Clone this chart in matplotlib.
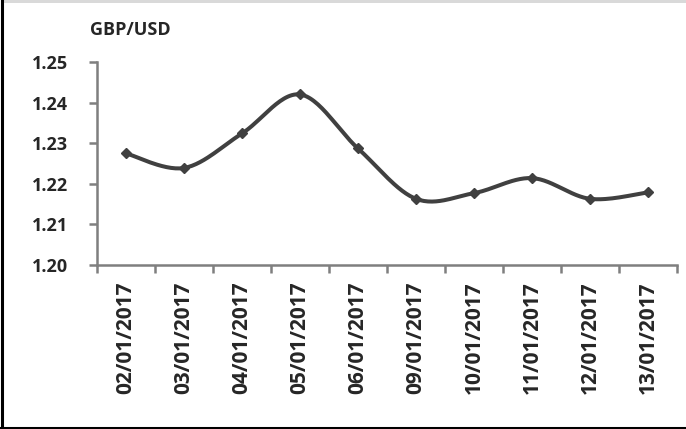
import numpy as np
import matplotlib
matplotlib.use("Agg")
import matplotlib.pyplot as plt
from matplotlib.patches import Rectangle
from matplotlib.lines import Line2D

dates = ["02/01/2017", "03/01/2017", "04/01/2017", "05/01/2017", "06/01/2017",
         "09/01/2017", "10/01/2017", "11/01/2017", "12/01/2017", "13/01/2017"]
rates = [1.2275, 1.2239, 1.2324, 1.2420, 1.2287, 1.2163, 1.2177, 1.2214, 1.2163, 1.2179]
y_ticks = [1.20, 1.21, 1.22, 1.23, 1.24, 1.25]
y_label = "GBP/USD"

plt.rcParams['font.family'] = ['Open Sans', 'DejaVu Sans']
txt_color = "#262626"
axis_color = "#7f7f7f"
line_color = "#404040"

fig = plt.figure(figsize=(6.86, 4.29), dpi=100)
ax = fig.add_axes([97/686, 1-265/429, (677-97)/686, (265-62)/429])

x = np.arange(len(rates), dtype=float)
y = np.array(rates)

# Smooth curve (Excel-style cubic Bezier through the points)
px = np.concatenate([[x[0]], x, [x[-1]]])
py = np.concatenate([[y[0]], y, [y[-1]]])
cx, cy = [], []
t = np.linspace(0, 1, 30)
for i in range(len(x) - 1):
    p0 = np.array([x[i], y[i]])
    p3 = np.array([x[i+1], y[i+1]])
    prev = np.array([px[i], py[i]])
    nxt = np.array([px[i+3], py[i+3]])
    p1 = p0 + (p3 - prev) / 6
    p2 = p3 - (nxt - p0) / 6
    b = ((1-t)**3)[:, None]*p0 + (3*(1-t)**2*t)[:, None]*p1 + (3*(1-t)*t**2)[:, None]*p2 + (t**3)[:, None]*p3
    cx.extend(b[:, 0]); cy.extend(b[:, 1])
ax.plot(cx, cy, color=line_color, lw=2.9, solid_capstyle='round', zorder=3)
ax.plot(x, y, linestyle='none', marker='D', markersize=5, color=line_color, zorder=4)

ax.set_xlim(-0.5, len(rates) - 0.5)
ax.set_ylim(1.20, 1.25)
ax.set_yticks(y_ticks)
ax.set_yticklabels([f"{v:.2f}" for v in y_ticks])
ax.set_xticks(np.arange(-0.5, len(rates)), minor=False)
ax.set_xticklabels([])
ax.set_xticks(x, minor=True)
ax.set_xticklabels(dates, minor=True, rotation=90)

for s in ['top', 'right']:
    ax.spines[s].set_visible(False)
for s in ['left', 'bottom']:
    ax.spines[s].set_color(axis_color)
    ax.spines[s].set_linewidth(1.8)

ax.tick_params(axis='x', which='major', length=6, width=1.8, color=axis_color, direction='out')
ax.tick_params(axis='x', which='minor', length=0, pad=12, labelsize=15, labelcolor=txt_color)
ax.tick_params(axis='y', length=6, width=1.8, color=axis_color, direction='out', pad=15,
               labelsize=13, labelcolor=txt_color)
for lab in ax.get_yticklabels() + ax.get_xticklabels(minor=True):
    lab.set_fontweight('bold')

fig.text(90/686, 1-30/429, y_label, fontsize=13, fontweight='bold', color=txt_color,
         ha='left', va='center')

# frame decorations
fig.add_artist(Rectangle((3/686, 1-3/429), 1, 3/429, transform=fig.transFigure,
                         facecolor="#d9d9d9", edgecolor='none'))
fig.add_artist(Line2D([1.5/686, 1.5/686], [0, 1], transform=fig.transFigure, color='black', lw=2.2))
fig.add_artist(Line2D([0, 1], [1.5/429, 1.5/429], transform=fig.transFigure, color='black', lw=2.2))

fig.savefig("out.png", dpi=100)
